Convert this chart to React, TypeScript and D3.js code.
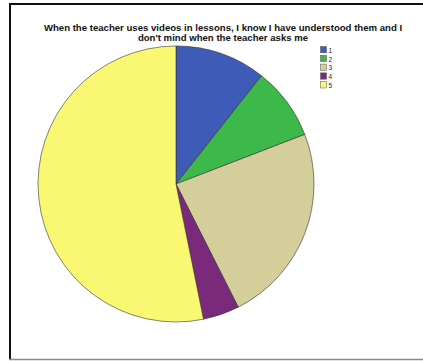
import React from "react";
import * as d3 from "d3";

const categories = ["1", "2", "3", "4", "5"];
const counts = [5, 4, 11, 2, 25];
const colors = ["#3E5BB8", "#3CB94A", "#D4CF9A", "#7B2A7B", "#FAF773"];
const titleLines = [
  "When the teacher uses videos in lessons, I know I have understood them and I",
  "don't mind when the teacher asks me",
];

export default function App() {
  const W = 423, H = 361;
  const cx = 176, cy = 184, r = 138;
  const pie = d3.pie<number>().sort(null).value((d) => d);
  const arcs = pie(counts);
  const arcGen = d3.arc<d3.PieArcDatum<number>>().innerRadius(0).outerRadius(r);
  const legendY = d3.scaleBand<string>().domain(categories).range([46.5, 88]).paddingInner(0.28).paddingOuter(0);
  return (
    <svg width={W} height={H} style={{ position: "absolute", left: 0, top: 0 }} fontFamily="Arial, Liberation Sans, sans-serif">
      <rect x={0} y={0} width={W} height={H} fill="#fff" />
      <line x1={9} y1={4} x2={W} y2={4} stroke="#111" strokeWidth={2.2} />
      <line x1={10} y1={3} x2={10} y2={360} stroke="#111" strokeWidth={2} />
      <line x1={9} y1={359.5} x2={W} y2={359.5} stroke="#888" strokeWidth={1.5} />
      {titleLines.map((t, i) => (
        <text key={i} x={223} y={31 + i * 10} textAnchor="middle" fontSize={9.6} fontWeight="bold" fill="#111">
          {t}
        </text>
      ))}
      <g transform={`translate(${cx},${cy})`}>
        {arcs.map((a, i) => (
          <path key={i} d={arcGen(a) || ""} fill={colors[i]} stroke="#333" strokeWidth={0.6} />
        ))}
      </g>
      {categories.map((c, i) => (
        <g key={c}>
          <rect x={320.5} y={legendY(c)} width={6} height={legendY.bandwidth()} fill={colors[i]} stroke="#555" strokeWidth={0.5} />
          <text x={328.5} y={(legendY(c) as number) + legendY.bandwidth()} fontSize={6.5} fill="#222">{c}</text>
        </g>
      ))}
    </svg>
  );
}
